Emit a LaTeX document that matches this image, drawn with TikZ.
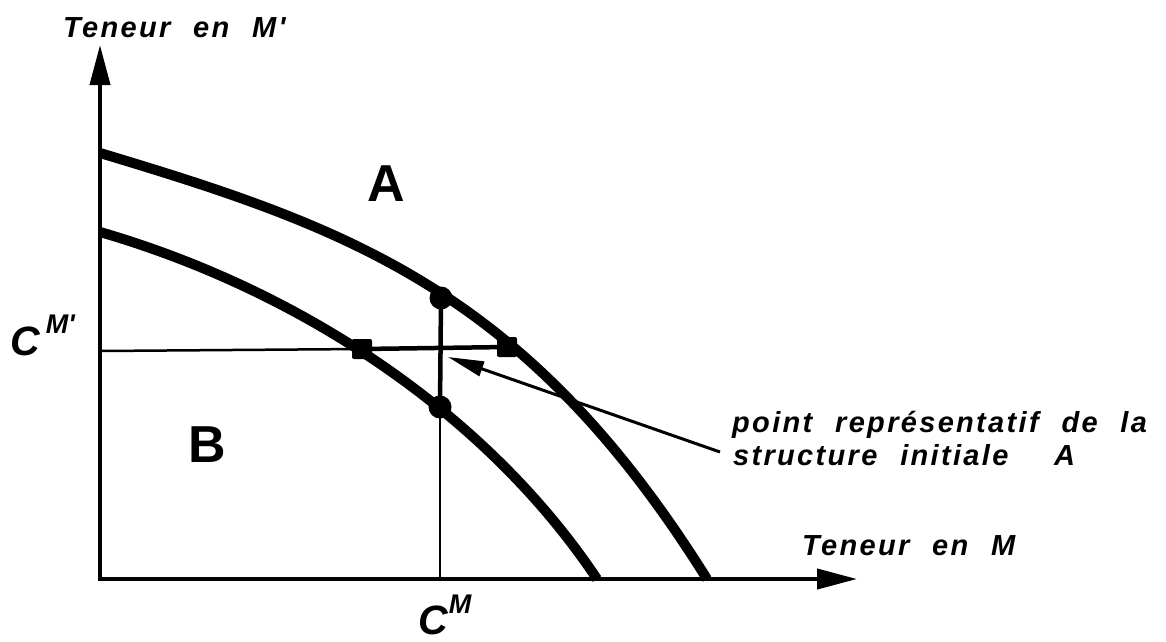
\documentclass[tikz,border=0pt]{standalone}
\usepackage{fontspec}
\setmainfont{Liberation Sans}
\newfontfamily\lblfont[LetterSpace=8,WordSpace=2.2]{Liberation Sans}
\newfontfamily\symfont{Liberation Sans}
\usetikzlibrary{arrows.meta}
\begin{document}
\begin{tikzpicture}[x=1pt,y=-1pt,
  axis/.style={line width=4pt,-{Triangle[length=40pt,width=20pt]}},
  curve/.style={line width=10pt},
  thinline/.style={line width=2.5pt},
  thickseg/.style={line width=4.5pt},
  pointer/.style={line width=3pt,-{Triangle[length=36pt,width=15pt]}},
  dot/.style={circle,fill,inner sep=0pt,minimum size=23pt},
  sq/.style={rectangle,fill,rounded corners=2pt,inner sep=0pt,minimum size=20pt},
  lbl/.style={inner sep=0pt,font=\lblfont\bfseries\itshape\fontsize{29}{33}\selectfont},
  big/.style={inner sep=0pt,font=\symfont\bfseries\fontsize{52}{52}\selectfont},
  csuplbl/.style={inner sep=0pt,font=\symfont\bfseries\itshape}
]
\useasboundingbox (0,0) rectangle (1166,641);
% coordinates
\coordinate (O) at (100,579);
\coordinate (Ytip) at (100,45);
\coordinate (Xtip) at (857,579);
\coordinate (Yc) at (100,351);
\coordinate (Xc) at (440,579);
\coordinate (tail) at (720,452);
\coordinate (tip) at (448,357);
\coordinate (o0) at (100,153);
\coordinate (o1) at (707,579);
\coordinate (i0) at (100,232);
\coordinate (i1) at (597,579);
% curves
\draw[curve] (o0) .. controls (350,228) and (527,291) .. (o1);
\draw[curve] (i0) .. controls (300,290) and (487,414) .. (i1);
% points
\node[dot] (c1) at (441,298) {};
\node[dot] (c2) at (440,407) {};
\node[sq] (s1) at (362,349) {};
\node[sq] (s2) at (507,347) {};
% lines
\draw[thinline] (Yc) -- (s1.center);
\draw[thickseg] (s1.center) -- (s2.center);
\draw[thickseg] (c1.center) -- (c2.center);
\draw[thinline] (c2.center) -- (Xc);
% axes
\draw[axis] (O) -- (Ytip);
\draw[axis] ([xshift=-2pt]O) -- (Xtip);
% pointer
\draw[pointer] (tail) -- (tip);
% labels
\node[lbl,anchor=base west] (ly) at (63,37) {Teneur en M'};
\node[lbl,anchor=base west] (lx) at (802,555) {Teneur en M};
\node[lbl,anchor=base west] (l1) at (732,432) {point représentatif de la};
\node[lbl,anchor=base west] (l2) at (733,465) {structure initiale~~A};
\node[big] (A) at (386,184) {A};
\node[big] (B) at (207,445) {B};
\node[csuplbl,anchor=base west] (cmp) at (10,355) {\fontsize{41}{41}\selectfont C\hspace{6pt}\raisebox{22pt}{\fontsize{27}{27}\selectfont M'}};
\node[csuplbl,anchor=base west] (cmx) at (418,634) {\fontsize{41}{41}\selectfont C\hspace{1pt}\raisebox{21pt}{\fontsize{27}{27}\selectfont M}};
\end{tikzpicture}
\end{document}
